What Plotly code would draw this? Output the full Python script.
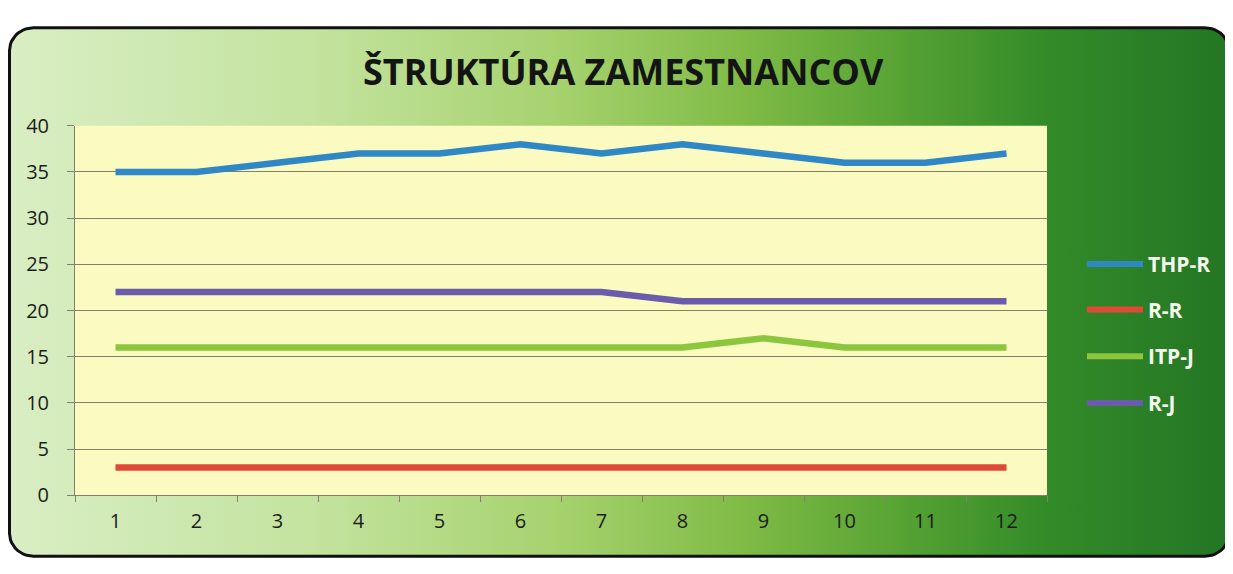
import numpy as np
import plotly.graph_objects as go

# ---------------- data ----------------
months = [1, 2, 3, 4, 5, 6, 7, 8, 9, 10, 11, 12]
thp_r = [35, 35, 36, 37, 37, 38, 37, 38, 37, 36, 36, 37]
r_r = [3, 3, 3, 3, 3, 3, 3, 3, 3, 3, 3, 3]
itp_j = [16, 16, 16, 16, 16, 16, 16, 16, 17, 16, 16, 16]
r_j = [22, 22, 22, 22, 22, 22, 22, 21, 21, 21, 21, 21]
series_names = ["THP-R", "R-R", "ITP-J", "R-J"]
series_values = [thp_r, r_r, itp_j, r_j]
series_colors = ["#2f87c6", "#e04838", "#8cc63e", "#6a5caa"]
y_ticks = [0, 5, 10, 15, 20, 25, 30, 35, 40]
title_text = "ŠTRUKTÚRA ZAMESTNANCOV"

# ---------------- layout geometry (screen pixels of the reference) ----------------
OFF = 8                        # page body margin
W, H = 1233, 574               # screen size
FW, FH = W - OFF, H - OFF      # figure size
PL, PR, PT, PB = 75, 1047, 117, 505          # plot area
BX0, BX1, BY0, BY1, RAD = 9.5, 1229, 14, 569, 24   # rounded frame

fig = go.Figure()


def rounded_rect(x0, x1, y0, y1, r, n=12):
    xs, ys = [], []
    corners = [(x1 - r, y0 + r, -90, 0), (x1 - r, y1 - r, 0, 90),
               (x0 + r, y1 - r, 90, 180), (x0 + r, y0 + r, 180, 270)]
    for cx, cy, a0, a1 in corners:
        t = np.radians(np.linspace(a0, a1, n))
        xs += list(cx + r * np.cos(t))
        ys += list(cy + r * np.sin(t))
    xs.append(xs[0]); ys.append(ys[0])
    return xs, ys


fx, fy = rounded_rect(BX0, BX1, BY0, BY1, RAD)
fig.add_trace(go.Scatter(
    x=fx, y=fy, mode="lines", fill="toself",
    line=dict(color="#111111", width=3),
    fillgradient=dict(type="horizontal", colorscale=[
        [0.0, "#d9eec4"], [0.25, "#c3e39e"], [0.45, "#a6d26e"],
        [0.6, "#80bb46"], [0.72, "#5aa535"], [0.85, "#338b28"],
        [1.0, "#237624"]]),
    hoverinfo="skip", showlegend=False, xaxis="x", yaxis="y"))

# yellow plot area
fig.add_trace(go.Scatter(
    x=[PL, PR, PR, PL, PL], y=[PT, PT, PB, PB, PT], mode="lines",
    fill="toself", fillcolor="#fbfac0", line=dict(width=0),
    hoverinfo="skip", showlegend=False, xaxis="x", yaxis="y"))

# data series
for name, vals, col in zip(series_names, series_values, series_colors):
    fig.add_trace(go.Scatter(
        x=months, y=vals, mode="lines", name=name,
        line=dict(color=col, width=6.5),
        showlegend=False, xaxis="x2", yaxis="y2"))

# legend drawn as line samples + white labels
leg_y = [262, 310, 359, 408]
for name, col, ly in zip(series_names, series_colors, leg_y):
    fig.add_shape(type="line", xref="x", yref="y", x0=1087, x1=1143,
                  y0=ly, y1=ly, line=dict(color=col, width=6), layer="above")
    fig.add_annotation(xref="x", yref="y", x=1146, y=ly, text="<b>%s</b>" % name,
                       showarrow=False, xanchor="left", yanchor="middle",
                       font=dict(family="Open Sans", size=21, color="#f4f8ee"))

# title
fig.add_annotation(xref="x", yref="y", x=623, y=60, text="<b>%s</b>" % title_text,
                   showarrow=False, xanchor="center", yanchor="middle",
                   font=dict(family="Open Sans", size=36, color="#141414"))

grid_col = "#877f6c"
tick_font = dict(family="Open Sans", size=20, color="#1c1c1c")
fig.update_layout(
    width=FW, height=FH,
    margin=dict(l=0, r=0, t=0, b=0, pad=0),
    paper_bgcolor="white", plot_bgcolor="rgba(0,0,0,0)",
    xaxis=dict(domain=[0, 1], range=[OFF, W], visible=False, fixedrange=True),
    yaxis=dict(domain=[0, 1], range=[H, OFF], visible=False, fixedrange=True),
    xaxis2=dict(domain=[(PL - OFF) / FW, (PR - OFF) / FW], anchor="y2",
                range=[0.5, 12.5],
                tickmode="array", tickvals=months, ticktext=[str(m) for m in months],
                ticks="", showgrid=False, showline=True, linecolor=grid_col,
                linewidth=1, zeroline=False,
                minor=dict(tickmode="linear", tick0=0.5, dtick=1, ticks="outside",
                           ticklen=6, tickcolor=grid_col, showgrid=False),
                tickfont=tick_font, ticklabelstandoff=8),
    yaxis2=dict(domain=[(H - PB) / FH, (H - PT) / FH], anchor="x2", range=[0, 40],
                tickmode="array", tickvals=y_ticks, ticks="outside", ticklen=7,
                tickcolor=grid_col, showgrid=True, gridcolor=grid_col, gridwidth=1,
                showline=True, linecolor=grid_col, linewidth=1, zeroline=False,
                tickfont=tick_font, ticklabelstandoff=14),
)

fig.write_html("out.html")
